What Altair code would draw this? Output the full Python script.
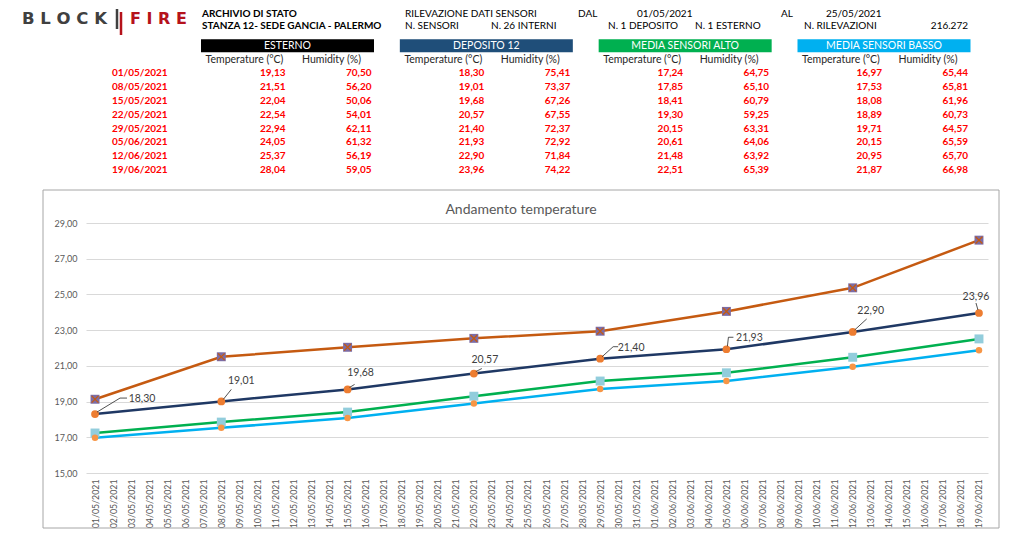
import altair as alt
import pandas as pd

# ---------------- data ----------------
dates = ["01/05/2021", "08/05/2021", "15/05/2021", "22/05/2021",
         "29/05/2021", "05/06/2021", "12/06/2021", "19/06/2021"]
est_t = [19.13, 21.51, 22.04, 22.54, 22.94, 24.05, 25.37, 28.04]
est_h = [70.50, 56.20, 50.06, 54.01, 62.11, 61.32, 56.19, 59.05]
dep_t = [18.30, 19.01, 19.68, 20.57, 21.40, 21.93, 22.90, 23.96]
dep_h = [75.41, 73.37, 67.26, 67.55, 72.37, 72.92, 71.84, 74.22]
alto_t = [17.24, 17.85, 18.41, 19.30, 20.15, 20.61, 21.48, 22.51]
alto_h = [64.75, 65.10, 60.79, 59.25, 63.31, 64.06, 63.92, 65.39]
basso_t = [16.97, 17.53, 18.08, 18.89, 19.71, 20.15, 20.95, 21.87]
basso_h = [65.44, 65.81, 61.96, 60.73, 64.57, 65.59, 65.70, 66.98]

groups = ["ESTERNO", "DEPOSITO 12", "MEDIA SENSORI ALTO", "MEDIA SENSORI BASSO"]
sub_temp = "Temperature (°C)"
sub_hum = "Humidity (%)"
y_ticks = [15, 17, 19, 21, 23, 25, 27, 29]
axis_days = [d.strftime("%d/%m/%Y") for d in pd.date_range("2021-05-01", "2021-06-19")]
chart_title = "Andamento temperature"

info_texts = ["ARCHIVIO DI STATO", "STANZA 12- SEDE GANCIA - PALERMO",
              "RILEVAZIONE DATI SENSORI", "DAL", "01/05/2021", "AL", "25/05/2021",
              "N. SENSORI", "N. 26 INTERNI", "N. 1 DEPOSITO", "N. 1 ESTERNO",
              "N. RILEVAZIONI", "216.272"]

# ---------------- styles / layout ----------------
PL, PT, W, H = 86, 223, 902, 250          # plot area in page coordinates
def px(x): return x - PL
def py(y): return y - PT

FONT = "Lato"
group_colors = ["#000000", "#1f4e79", "#00b050", "#00b0f0"]
info_pos = [(202, 14, "left", "bold"), (202, 26, "left", "bold"),
            (405, 14, "left", "normal"), (578, 14, "left", "normal"),
            (637, 14, "left", "normal"), (781, 14, "left", "normal"),
            (826, 14, "left", "normal"),
            (405, 26, "left", "normal"), (491, 26, "left", "normal"),
            (608, 26, "left", "normal"), (695, 26, "left", "normal"),
            (804, 26, "left", "normal"), (968, 26, "right", "normal")]

label_dx = [47, 20, 13, 11, 31, 23, 18, -3]
label_dy = [-15, -20, -16, -14, -11, -11, -21, -16]
leader_paths = ["M2,-2L25,-16L32,-16", "M2,-2L10,-12", "M2,-2L7,-5", "M2,-2L8,-5",
                "M2,-2L13,-12L18,-12", "M1,-3L2,-12L7,-12", "M2,-2L14,-13",
                "M-3,-10L-1,-3"]

one = pd.DataFrame({"k": [0]})

# ---------------- header table ----------------
rows = []
for g, (tt, hh) in enumerate([(est_t, est_h), (dep_t, dep_h), (alto_t, alto_h), (basso_t, basso_h)]):
    for i in range(len(dates)):
        rows.append({"g": g, "r": i, "t": tt[i], "h": hh[i]})
table = pd.DataFrame(rows)
boxes = pd.DataFrame({"g": list(range(4)), "name": groups, "col": group_colors, "r": [-2] * 4})
subs = pd.DataFrame({"g": list(range(4)), "r": [-1] * 4, "ts": [sub_temp] * 4, "hs": [sub_hum] * 4})
date_rows = pd.DataFrame({"g": [-1] * len(dates), "r": list(range(len(dates))), "d": dates})

HX = alt.X("g:Q", scale=alt.Scale(domain=[0, 3], range=[px(287.5), px(884)], zero=False, nice=False), axis=None)
HY = alt.Y("r:Q", scale=alt.Scale(domain=[-2, 7], range=[py(45.7), py(170)], zero=False, nice=False), axis=None)

box_rect = alt.Chart(boxes).mark_rect(xOffset=-86.5, x2Offset=86.5, yOffset=-6.5, y2Offset=6.5).encode(
    x=HX, x2="g:Q", y=HY, y2="r:Q", color=alt.Color("col:N", scale=None))
box_text = alt.Chart(boxes).mark_text(font=FONT, fontSize=10.5, color="white").encode(x=HX, y=HY, text="name:N")
sub_t = alt.Chart(subs).mark_text(font=FONT, fontSize=10.5, color="#262626", dx=-43).encode(x=HX, y=HY, text="ts:N")
sub_h = alt.Chart(subs).mark_text(font=FONT, fontSize=10.5, color="#262626", dx=44).encode(x=HX, y=HY, text="hs:N")
val_t = alt.Chart(table).transform_calculate(
    tl="replace(format(datum.t, '.2f'), '.', ',')").mark_text(
    font=FONT, fontSize=10, fontWeight="bold", color="#ff0000", align="right", dx=-2).encode(
    x=HX, y=HY, text="tl:N")
val_h = alt.Chart(table).transform_calculate(
    hl="replace(format(datum.h, '.2f'), '.', ',')").mark_text(
    font=FONT, fontSize=10, fontWeight="bold", color="#ff0000", align="right", dx=84).encode(
    x=HX, y=HY, text="hl:N")
date_txt = alt.Chart(date_rows).mark_text(
    font=FONT, fontSize=10, fontWeight="bold", color="#ff0000", align="right", dx=79).encode(
    x=HX, y=HY, text="d:N")

header_group = alt.layer(box_rect, box_text, sub_t, sub_h, val_t, val_h, date_txt)

# ---------------- line chart ----------------
series = [("EST", est_t), ("DEP", dep_t), ("ALTO", alto_t), ("BASSO", basso_t)]
lrows = []
for s, vals in series:
    for i, (d, v) in enumerate(zip(dates, vals)):
        lrows.append({"s": s, "idx": i, "date": d, "v": v})
ldf = pd.DataFrame(lrows)

XL = alt.X("date:N", scale=alt.Scale(type="point", domain=axis_days, padding=0.5),
           axis=alt.Axis(title=None, labelAngle=270, labelFont=FONT, labelFontSize=8.8,
                         labelColor="#595959", ticks=False, domain=False, grid=False,
                         labelOverlap=False, labelPadding=6))
YL = alt.Y("v:Q", scale=alt.Scale(domain=[15, 29], zero=False, nice=False),
           axis=alt.Axis(title=None, values=y_ticks, grid=True, gridColor="#d9d9d9", gridWidth=1,
                         domain=False, ticks=False,
                         labelExpr="replace(format(datum.value, '.2f'), '.', ',')",
                         labelFont=FONT, labelFontSize=9, labelColor="#595959", labelPadding=9))

def ser(name):
    return alt.Chart(ldf).transform_filter(alt.datum.s == name)

line_colors = {"EST": "#c55a11", "DEP": "#1f3864", "ALTO": "#00b050", "BASSO": "#00b0f0"}
line_layers = []
for s, _ in series:
    line_layers.append(ser(s).mark_line(color=line_colors[s], strokeWidth=2.5).encode(
        x=XL, y=YL, order="idx:Q"))

line_layers.append(ser("EST").mark_point(shape="square", filled=True, color="#7b6ca6", size=80, opacity=1).encode(x=XL, y=YL))
line_layers.append(ser("EST").mark_point(shape="M-1,-1L1,1M1,-1L-1,1", filled=False, color="#c55a11",
                                         strokeWidth=1.3, size=45, opacity=1).encode(x=XL, y=YL))
line_layers.append(ser("DEP").mark_point(shape="circle", filled=True, color="#ed7d31", size=60, opacity=1).encode(x=XL, y=YL))
line_layers.append(ser("ALTO").mark_point(shape="square", filled=True, color="#92cddc", size=80, opacity=1).encode(x=XL, y=YL))
line_layers.append(ser("BASSO").mark_point(shape="circle", filled=True, color="#f79646", size=42, opacity=1).encode(x=XL, y=YL))

for i in range(len(dates)):
    dsel = alt.Chart(ldf).transform_filter((alt.datum.s == "DEP") & (alt.datum.idx == i))
    line_layers.append(dsel.mark_point(shape=leader_paths[i], size=4, filled=False, color="#262626",
                                       strokeWidth=0.8, opacity=1).encode(x=XL, y=YL))
    line_layers.append(dsel.transform_calculate(
        lab="replace(format(datum.v, '.2f'), '.', ',')").mark_text(
        font=FONT, fontSize=10.5, color="#404040", dx=label_dx[i], dy=label_dy[i]).encode(
        x=XL, y=YL, text="lab:N"))

lines_group = alt.layer(*line_layers)

# ---------------- decorations ----------------
deco = []
deco.append(alt.Chart(one).mark_rect(fillOpacity=0, stroke="#a6a6a6", strokeWidth=1).encode(
    x=alt.value(px(43)), x2=alt.value(px(999)), y=alt.value(py(190)), y2=alt.value(py(528))))
deco.append(alt.Chart(one).mark_text(text=chart_title, font=FONT, fontSize=14, color="#595959").encode(
    x=alt.value(px(521)), y=alt.value(py(210))))
# logo
deco.append(alt.Chart(one).mark_text(text="B L O C K", font="DejaVu Sans", fontSize=16.5, fontWeight="bold",
                                     color="#404040", align="left").encode(x=alt.value(px(22)), y=alt.value(py(19))))
deco.append(alt.Chart(one).mark_text(text="F I R E", font="DejaVu Sans", fontSize=16, fontWeight="bold",
                                     color="#b5121b", align="left").encode(x=alt.value(px(130)), y=alt.value(py(19))))
deco.append(alt.Chart(one).mark_rule(color="#404040", strokeWidth=2.5).encode(
    x=alt.value(px(117)), y=alt.value(py(9)), y2=alt.value(py(29))))
deco.append(alt.Chart(one).mark_rule(color="#b5121b", strokeWidth=2.5).encode(
    x=alt.value(px(121)), y=alt.value(py(12)), y2=alt.value(py(35))))
for t, (x, y, al, fw) in zip(info_texts, info_pos):
    deco.append(alt.Chart(one).mark_text(text=t, font=FONT, fontSize=10, fontWeight=fw, color="#000000",
                                         align=al).encode(x=alt.value(px(x)), y=alt.value(py(y))))

chart = alt.layer(lines_group, header_group, *deco).resolve_scale(
    x="independent", y="independent").properties(
    width=W, height=H,
    padding={"left": PL - 8, "top": PT - 8, "right": 20, "bottom": 56},
    autosize=alt.AutoSizeParams(type="none"),
    background="white",
).configure_view(strokeWidth=0)

chart.save("out.html", embed_options={"renderer": "svg", "actions": False})
